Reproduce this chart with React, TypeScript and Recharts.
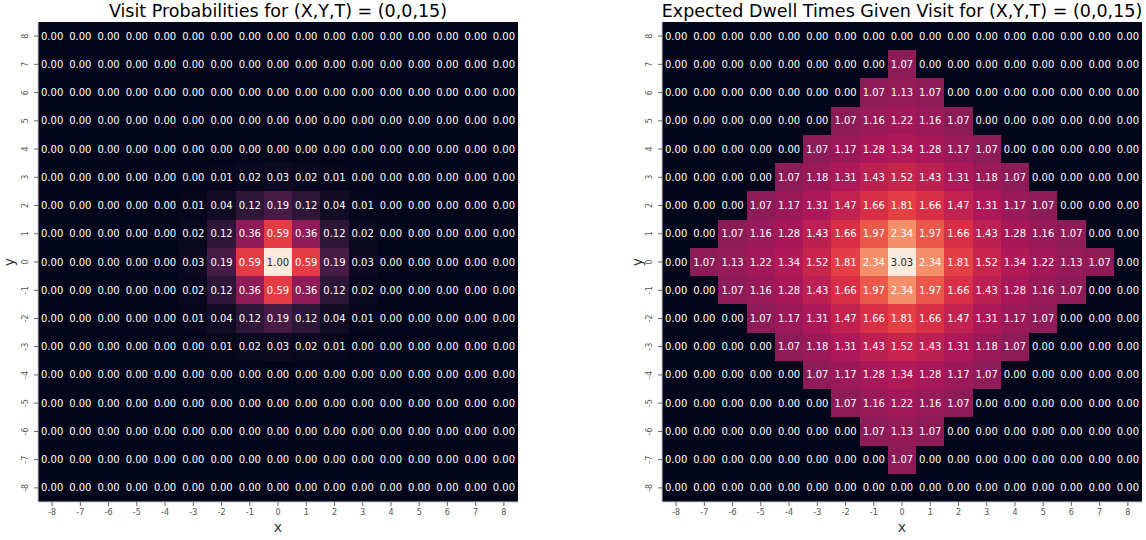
import React from 'react';
import { ScatterChart, Scatter, XAxis, YAxis, ReferenceArea } from 'recharts';

// grid coordinates
const xCats = [-8, -7, -6, -5, -4, -3, -2, -1, 0, 1, 2, 3, 4, 5, 6, 7, 8];
const yCats = [8, 7, 6, 5, 4, 3, 2, 1, 0, -1, -2, -3, -4, -5, -6, -7, -8];

// rows from y=8 (top) down to y=-8
const visitProb = [
    [0, 0, 0, 0, 0, 0, 0, 0, 0, 0, 0, 0, 0, 0, 0, 0, 0],
    [0, 0, 0, 0, 0, 0, 0, 0, 0, 0, 0, 0, 0, 0, 0, 0, 0],
    [0, 0, 0, 0, 0, 0, 0, 0, 0, 0, 0, 0, 0, 0, 0, 0, 0],
    [0, 0, 0, 0, 0, 0, 0, 0, 0, 0, 0, 0, 0, 0, 0, 0, 0],
    [0, 0, 0, 0, 0, 0, 0, 0, 0, 0, 0, 0, 0, 0, 0, 0, 0],
    [0, 0, 0, 0, 0, 0, 0.01, 0.02, 0.03, 0.02, 0.01, 0, 0, 0, 0, 0, 0],
    [0, 0, 0, 0, 0, 0.01, 0.04, 0.12, 0.19, 0.12, 0.04, 0.01, 0, 0, 0, 0, 0],
    [0, 0, 0, 0, 0, 0.02, 0.12, 0.36, 0.59, 0.36, 0.12, 0.02, 0, 0, 0, 0, 0],
    [0, 0, 0, 0, 0, 0.03, 0.19, 0.59, 1.0, 0.59, 0.19, 0.03, 0, 0, 0, 0, 0],
    [0, 0, 0, 0, 0, 0.02, 0.12, 0.36, 0.59, 0.36, 0.12, 0.02, 0, 0, 0, 0, 0],
    [0, 0, 0, 0, 0, 0.01, 0.04, 0.12, 0.19, 0.12, 0.04, 0.01, 0, 0, 0, 0, 0],
    [0, 0, 0, 0, 0, 0, 0.01, 0.02, 0.03, 0.02, 0.01, 0, 0, 0, 0, 0, 0],
    [0, 0, 0, 0, 0, 0, 0, 0, 0, 0, 0, 0, 0, 0, 0, 0, 0],
    [0, 0, 0, 0, 0, 0, 0, 0, 0, 0, 0, 0, 0, 0, 0, 0, 0],
    [0, 0, 0, 0, 0, 0, 0, 0, 0, 0, 0, 0, 0, 0, 0, 0, 0],
    [0, 0, 0, 0, 0, 0, 0, 0, 0, 0, 0, 0, 0, 0, 0, 0, 0],
    [0, 0, 0, 0, 0, 0, 0, 0, 0, 0, 0, 0, 0, 0, 0, 0, 0],
];

const dwellTimes = [
    [0, 0, 0, 0, 0, 0, 0, 0, 0, 0, 0, 0, 0, 0, 0, 0, 0],
    [0, 0, 0, 0, 0, 0, 0, 0, 1.07, 0, 0, 0, 0, 0, 0, 0, 0],
    [0, 0, 0, 0, 0, 0, 0, 1.07, 1.13, 1.07, 0, 0, 0, 0, 0, 0, 0],
    [0, 0, 0, 0, 0, 0, 1.07, 1.16, 1.22, 1.16, 1.07, 0, 0, 0, 0, 0, 0],
    [0, 0, 0, 0, 0, 1.07, 1.17, 1.28, 1.34, 1.28, 1.17, 1.07, 0, 0, 0, 0, 0],
    [0, 0, 0, 0, 1.07, 1.18, 1.31, 1.43, 1.52, 1.43, 1.31, 1.18, 1.07, 0, 0, 0, 0],
    [0, 0, 0, 1.07, 1.17, 1.31, 1.47, 1.66, 1.81, 1.66, 1.47, 1.31, 1.17, 1.07, 0, 0, 0],
    [0, 0, 1.07, 1.16, 1.28, 1.43, 1.66, 1.97, 2.34, 1.97, 1.66, 1.43, 1.28, 1.16, 1.07, 0, 0],
    [0, 1.07, 1.13, 1.22, 1.34, 1.52, 1.81, 2.34, 3.03, 2.34, 1.81, 1.52, 1.34, 1.22, 1.13, 1.07, 0],
    [0, 0, 1.07, 1.16, 1.28, 1.43, 1.66, 1.97, 2.34, 1.97, 1.66, 1.43, 1.28, 1.16, 1.07, 0, 0],
    [0, 0, 0, 1.07, 1.17, 1.31, 1.47, 1.66, 1.81, 1.66, 1.47, 1.31, 1.17, 1.07, 0, 0, 0],
    [0, 0, 0, 0, 1.07, 1.18, 1.31, 1.43, 1.52, 1.43, 1.31, 1.18, 1.07, 0, 0, 0, 0],
    [0, 0, 0, 0, 0, 1.07, 1.17, 1.28, 1.34, 1.28, 1.17, 1.07, 0, 0, 0, 0, 0],
    [0, 0, 0, 0, 0, 0, 1.07, 1.16, 1.22, 1.16, 1.07, 0, 0, 0, 0, 0, 0],
    [0, 0, 0, 0, 0, 0, 0, 1.07, 1.13, 1.07, 0, 0, 0, 0, 0, 0, 0],
    [0, 0, 0, 0, 0, 0, 0, 0, 1.07, 0, 0, 0, 0, 0, 0, 0, 0],
    [0, 0, 0, 0, 0, 0, 0, 0, 0, 0, 0, 0, 0, 0, 0, 0, 0],
];

// seaborn "rocket" colormap, sampled at k/7
const rocketStops = ['#03051a', '#35193e', '#701f57', '#ad1759', '#e13342', '#f37651', '#f6b48f', '#faebdd'];

const hexToRgb = (h: string) => [1, 3, 5].map((i) => parseInt(h.slice(i, i + 2), 16));

const rocket = (t: number) => {
    const p = Math.max(0, Math.min(1, t)) * (rocketStops.length - 1);
    const i = Math.min(Math.floor(p), rocketStops.length - 2);
    const f = p - i;
    const a = hexToRgb(rocketStops[i]);
    const b = hexToRgb(rocketStops[i + 1]);
    const c = a.map((v, k) => Math.round(v + (b[k] - v) * f));
    return { css: `rgb(${c[0]},${c[1]},${c[2]})`, rgb: c };
};

const luminance = (rgb: number[]) => {
    const lin = rgb.map((v) => {
        const s = v / 255;
        return s <= 0.03928 ? s / 12.92 : Math.pow((s + 0.055) / 1.055, 2.4);
    });
    return 0.2126 * lin[0] + 0.7152 * lin[1] + 0.0722 * lin[2];
};

const FONT = "'DejaVu Sans', sans-serif";
const W = 573;
const H = 540;

const YTick = ({ x, y, payload }: any) => (
    <text
        transform={`translate(${x - 7}, ${y}) rotate(-90)`}
        textAnchor="middle"
        dy="0.35em"
        fontSize={8}
        fill="#555"
        fontFamily={FONT}
    >
        {payload.value}
    </text>
);

const XTick = ({ x, y, payload }: any) => (
    <text x={x} y={y} dy="0.71em" textAnchor="middle" fontSize={8} fill="#555" fontFamily={FONT}>
        {payload.value}
    </text>
);

// crisp cell so neighbouring rects don't show seams
const CellRect = (props: any) => (
    <rect
        x={props.x}
        y={props.y}
        width={props.width}
        height={props.height}
        fill={props.fill}
        stroke="none"
        shapeRendering="crispEdges"
    />
);

interface HeatmapProps {
    title: string;
    matrix: number[][];
    left: number;
    marginLeft: number;
    marginRight: number;
    plotCenter: number;
    yLabelX: number;
}

const Heatmap: React.FC<HeatmapProps> = ({ title, matrix, left, marginLeft, marginRight, plotCenter, yLabelX }) => {
    const vmax = Math.max(...matrix.map((r) => Math.max(...r)));
    const cells: any[] = [];
    matrix.forEach((row, i) =>
        row.forEach((v, j) => {
            const col = rocket(v / vmax);
            cells.push({ x: xCats[j], y: yCats[i], v, fill: col.css, dark: luminance(col.rgb) > 0.408 });
        })
    );

    const renderLabel = (props: any) => {
        const { cx, cy, payload } = props;
        return (
            <text
                x={cx}
                y={cy}
                dy="0.35em"
                textAnchor="middle"
                fontSize={10}
                fontFamily={FONT}
                fill={payload.dark ? '#262626' : '#ffffff'}
            >
                {payload.v.toFixed(2)}
            </text>
        );
    };

    return (
        <div style={{ position: 'absolute', left, top: 0, width: W, height: H }}>
            <ScatterChart width={W} height={H} margin={{ top: 22, right: marginRight, bottom: 18, left: marginLeft }}>
                <XAxis
                    type="number"
                    dataKey="x"
                    domain={[-8.5, 8.5]}
                    ticks={xCats}
                    allowDataOverflow
                    height={20}
                    tickSize={4}
                    tickMargin={3}
                    tick={<XTick />}
                    tickLine={{ stroke: '#666' }}
                    axisLine={{ stroke: '#ccc' }}
                />
                <YAxis
                    type="number"
                    dataKey="y"
                    domain={[-8.5, 8.5]}
                    ticks={yCats}
                    allowDataOverflow
                    width={20}
                    tickSize={4}
                    tick={<YTick />}
                    tickLine={{ stroke: '#666' }}
                    axisLine={{ stroke: '#ccc' }}
                />
                {cells.map((c, k) => (
                    <ReferenceArea
                        key={k}
                        x1={c.x - 0.5}
                        x2={c.x + 0.5}
                        y1={c.y - 0.5}
                        y2={c.y + 0.5}
                        fill={c.fill}
                        fillOpacity={1}
                        shape={<CellRect />}
                        ifOverflow="visible"
                    />
                ))}
                <Scatter data={cells} shape={renderLabel} isAnimationActive={false} />
            </ScatterChart>
            <div
                style={{
                    position: 'absolute',
                    top: 0,
                    left: plotCenter - 300,
                    width: 600,
                    textAlign: 'center',
                    fontSize: 17.5,
                    lineHeight: '22px',
                    color: '#000',
                    fontFamily: FONT,
                }}
            >
                {title}
            </div>
            <div
                style={{
                    position: 'absolute',
                    top: 518,
                    left: plotCenter - 20,
                    width: 40,
                    textAlign: 'center',
                    fontSize: 14,
                    lineHeight: '18px',
                    color: '#333',
                    fontFamily: FONT,
                }}
            >
                x
            </div>
            <div
                style={{
                    position: 'absolute',
                    top: 253,
                    left: yLabelX - 20,
                    width: 40,
                    textAlign: 'center',
                    fontSize: 14,
                    lineHeight: '18px',
                    color: '#333',
                    fontFamily: FONT,
                    transform: 'rotate(-90deg)',
                }}
            >
                y
            </div>
        </div>
    );
};

export default function App() {
    return (
        <div style={{ position: 'absolute', left: 0, top: 0, width: 1146, height: 540, background: '#fff', overflow: 'hidden' }}>
            <Heatmap
                title="Visit Probabilities for (X,Y,T) = (0,0,15)"
                matrix={visitProb}
                left={0}
                marginLeft={18}
                marginRight={55}
                plotCenter={278}
                yLabelX={9}
            />
            <Heatmap
                title="Expected Dwell Times Given Visit for (X,Y,T) = (0,0,15)"
                matrix={dwellTimes}
                left={573}
                marginLeft={69}
                marginRight={4}
                plotCenter={329}
                yLabelX={64}
            />
        </div>
    );
}
